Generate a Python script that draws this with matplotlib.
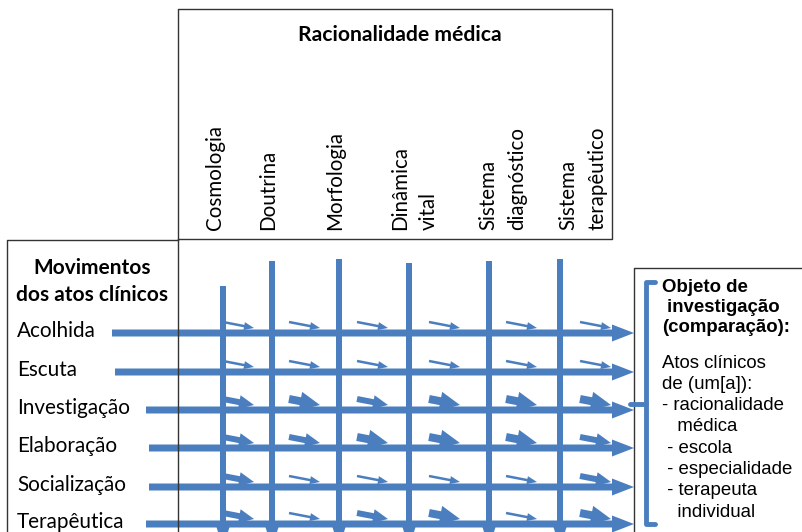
import matplotlib.pyplot as plt
from matplotlib.patches import FancyArrow

# dados do diagrama
titulo = "Racionalidade médica"
colunas = [["Cosmologia"], ["Doutrina"], ["Morfologia"], ["Dinâmica", "vital"],
           ["Sistema", "diagnóstico"], ["Sistema", "terapêutico"]]
cabecalho_linhas = ["Movimentos", "dos atos clínicos"]
linhas = ["Acolhida", "Escuta", "Investigação", "Elaboração", "Socialização", "Terapêutica"]
objeto_titulo = ["Objeto de", " investigação", "(comparação):"]
objeto_texto = ["Atos clínicos", "de (um[a]):", "- racionalidade", "   médica",
                " - escola", " - especialidade", " - terapeuta", "   individual"]
# intensidade das setas em cada celula (1 = fina, 2 = media, 3 = grande)
intensidade = [
    [1, 1, 1, 1, 1, 1],
    [1, 1, 1, 1, 1, 1],
    [2, 3, 2, 3, 3, 3],
    [2, 2, 3, 3, 3, 2],
    [2, 1, 1, 1, 1, 2],
    [2, 1, 2, 3, 1, 3],
]

# layout (pixels)
W, H = 802, 532
azul = "#4a7ebf"
x_vert = [223, 272, 339, 409, 489, 560]
topo_vert = [286, 261, 259, 263, 261, 259]
y_lin = [333, 372, 410, 448, 487, 524]
inicio_lin = [112, 115, 146, 149, 149, 146]
x_lab_col = [215, 268, 335, 400, 488, 568]
desloc_cel = [0, 17, 18, 20, 17, 20]
x_fim = 634

fig = plt.figure(figsize=(W / 100, H / 100), dpi=100)
ax = fig.add_axes([0, 0, 1, 1])
ax.set_xlim(0, W)
ax.set_ylim(H, 0)
ax.axis("off")

# caixas
k = dict(color="#333333", lw=1)
ax.plot([178, 612, 612, 178, 178], [239, 239, 9, 9, H], **k)
ax.plot([178, 7, 7], [240, 240, H], **k)
ax.plot([W, 634, 634], [268, 268, H], **k)

ax.text(400, 35, titulo, fontsize=15.2, fontweight="bold", family="Lato",
        ha="center", va="center")
for x, lab in zip(x_lab_col, colunas):
    for j, parte in enumerate(lab):
        ax.text(x + j * 29, 230, parte, rotation=90, fontsize=14.8, family="Lato",
                ha="center", va="bottom")

for j, t in enumerate(cabecalho_linhas):
    ax.text(92, 268 + j * 27, t, fontsize=15, fontweight="bold", family="Lato",
            ha="center", va="center")
for y, t in zip(y_lin, linhas):
    ax.text(17, y - 2, t, fontsize=14.9, family="Lato", ha="left", va="center")

# linhas verticais
for x, t in zip(x_vert, topo_vert):
    ax.add_patch(FancyArrow(x, t, 0, 548 - t, width=6, head_width=15, head_length=24,
                            length_includes_head=True, color=azul, lw=0))
# setas horizontais
for y, x0 in zip(y_lin, inicio_lin):
    ax.add_patch(FancyArrow(x0, y, x_fim - x0, 0, width=7, head_width=17, head_length=22,
                            length_includes_head=True, color=azul, lw=0))

# setas pequenas nas celulas
tam = {1: (2.5, 8, 10), 2: (6, 14, 15), 3: (8, 19, 20)}
for i, y in enumerate(y_lin):
    for j, x in enumerate(x_vert):
        w, hw, hl = tam[intensidade[i][j]]
        x0 = x + desloc_cel[j]
        ax.add_patch(FancyArrow(x0, y - 11, 31, 6, width=w, head_width=hw, head_length=hl,
                                length_includes_head=True, color=azul, lw=0))

# chave
ax.plot([655, 646, 646, 655], [282, 282, 524, 524], color=azul, lw=3.5,
        solid_joinstyle="round", solid_capstyle="round")
ax.plot([630, 646], [404, 404], color=azul, lw=3.5, solid_capstyle="round")

for j, t in enumerate(objeto_titulo):
    ax.text(662, 288 + j * 20, t, fontsize=13.4, fontweight="bold",
            family="Liberation Sans", ha="left", va="center")
for j, t in enumerate(objeto_texto):
    ax.text(662, 363 + j * 21.3, t, fontsize=13.4, family="Liberation Sans",
            ha="left", va="center")

fig.savefig("out.png", dpi=100)
